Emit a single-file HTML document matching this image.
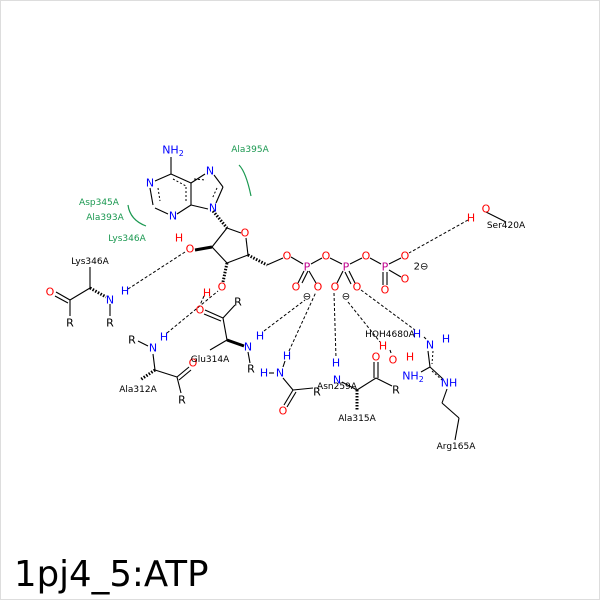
<!DOCTYPE html>
<html><head><style>body{margin:0;background:#fff}svg{display:block}</style></head><body>
<svg width="600" height="600" viewBox="0 0 600 600" xmlns="http://www.w3.org/2000/svg" font-family="DejaVu Sans, Liberation Sans, sans-serif">
<rect x="0.5" y="0.5" width="599" height="599" fill="#fff" stroke="#ddd"/>
<g stroke="#000" stroke-width="1.1" fill="none">
<line x1="171" y1="157" x2="171" y2="174"/>
<line x1="171" y1="174" x2="155" y2="181"/>
<line x1="150" y1="188" x2="153" y2="205"/>
<line x1="155" y1="208" x2="168" y2="214"/>
<line x1="177" y1="214" x2="191" y2="205"/>
<line x1="191" y1="205" x2="191" y2="183"/>
<line x1="191" y1="183" x2="171" y2="174"/>
<line x1="191" y1="183" x2="205" y2="174"/>
<line x1="214" y1="175" x2="223" y2="187"/>
<line x1="223" y1="187" x2="216" y2="203"/>
<line x1="208" y1="209" x2="191" y2="205"/>
<line x1="227" y1="228" x2="241" y2="233"/>
<line x1="246" y1="238" x2="248" y2="255"/>
<line x1="248" y1="255" x2="227" y2="263"/>
<line x1="227" y1="263" x2="212" y2="247"/>
<line x1="212" y1="247" x2="227" y2="228"/>
<line x1="267" y1="265" x2="283" y2="258"/>
<line x1="291" y1="257" x2="303" y2="264"/>
<line x1="311" y1="264" x2="322" y2="258"/>
<line x1="330" y1="258" x2="342" y2="264"/>
<line x1="350" y1="264" x2="362" y2="258"/>
<line x1="370" y1="258" x2="381" y2="264"/>
<line x1="389" y1="264" x2="401" y2="258"/>
<line x1="389" y1="270" x2="401" y2="277"/>
<line x1="383" y1="272" x2="383" y2="285"/><line x1="387" y1="272" x2="387" y2="285"/>
<line x1="304" y1="271" x2="298" y2="283"/><line x1="308" y1="271" x2="302" y2="283"/>
<line x1="309" y1="271" x2="316" y2="283"/>
<line x1="343" y1="271" x2="337" y2="283"/>
<line x1="349" y1="271" x2="355" y2="283"/><line x1="345" y1="272" x2="351" y2="284"/>
<line x1="486" y1="212" x2="506" y2="222"/>
<line x1="90" y1="267" x2="90" y2="288"/>
<line x1="90" y1="288" x2="70" y2="300"/>
<line x1="70" y1="300" x2="56" y2="292"/><line x1="68" y1="303" x2="55" y2="296"/>
<line x1="70" y1="300" x2="70" y2="316"/>
<line x1="110" y1="304" x2="110" y2="316"/>
<line x1="138" y1="341" x2="148" y2="346"/>
<line x1="153" y1="354" x2="155" y2="370"/>
<line x1="155" y1="370" x2="177" y2="377"/>
<line x1="177" y1="377" x2="189" y2="367"/><line x1="179" y1="380" x2="191" y2="370"/>
<line x1="177" y1="377" x2="181" y2="393"/>
<line x1="227" y1="340" x2="223" y2="318"/>
<line x1="223" y1="318" x2="205" y2="310"/><line x1="221" y1="321" x2="204" y2="314"/>
<line x1="223" y1="318" x2="235" y2="305"/>
<line x1="248" y1="352" x2="250" y2="363"/>
<line x1="227" y1="340" x2="210" y2="350"/>
<line x1="269" y1="373" x2="274" y2="373"/>
<line x1="285" y1="361" x2="283" y2="367"/>
<line x1="283" y1="378" x2="293" y2="390"/>
<line x1="293" y1="390" x2="284" y2="405"/><line x1="296" y1="392" x2="287" y2="407"/>
<line x1="293" y1="390" x2="313" y2="388"/>
<line x1="342" y1="382" x2="357" y2="390"/>
<line x1="357" y1="390" x2="376" y2="378"/>
<line x1="374" y1="378" x2="374" y2="362"/><line x1="378" y1="378" x2="378" y2="362"/>
<line x1="376" y1="378" x2="392" y2="386"/>
<line x1="424" y1="337" x2="426" y2="339"/>
<line x1="428" y1="351" x2="430" y2="367"/>
<line x1="430" y1="367" x2="421" y2="372"/>
<line x1="430" y1="367" x2="443" y2="379"/>
<line x1="447" y1="389" x2="442" y2="403"/>
<line x1="442" y1="403" x2="459" y2="418"/>
<line x1="459" y1="418" x2="455" y2="440"/>
<line x1="390" y1="350" x2="391" y2="353"/>
</g>
<g stroke="#000" stroke-width="1" stroke-dasharray="2,2" fill="none">
<line x1="158" y1="188" x2="160" y2="201"/>
<line x1="186" y1="201" x2="186" y2="186"/>
<line x1="194" y1="179" x2="206" y2="180"/>
<line x1="217" y1="188" x2="212" y2="199"/>
<line x1="173" y1="179" x2="186" y2="186"/>
<line x1="433" y1="351" x2="432" y2="364"/>
<line x1="432" y1="371" x2="442" y2="380"/>
</g>
<g stroke="#000" stroke-width="1">
<path d="M213 211 L227 228" stroke-dasharray="1.5,1.5" stroke-width="3"/>
<path d="M212 247 L195 250" stroke-width="3"/>
<path d="M227 263 L223 282" stroke-dasharray="1.5,1.5" stroke-width="3"/>
<path d="M248 255 L267 265" stroke-dasharray="1.5,1.5" stroke-width="3"/>
<path d="M90 288 L106 297" stroke-dasharray="1.5,1.5" stroke-width="3"/>
<path d="M155 370 L140 380" stroke-dasharray="1.5,1.5" stroke-width="3"/>
<path d="M227 340 L244 346" stroke-width="3"/>
<path d="M357 390 L357 410" stroke-dasharray="1.5,1.5" stroke-width="3"/>
</g>
<g stroke="#000" stroke-width="1" stroke-dasharray="3,2" fill="none">
<line x1="128" y1="289" x2="185" y2="252"/>
<line x1="167" y1="333" x2="218" y2="291"/>
<line x1="204" y1="296" x2="200" y2="305"/>
<line x1="264" y1="331" x2="305" y2="300"/>
<line x1="289" y1="351" x2="316" y2="292"/>
<line x1="334" y1="293" x2="336" y2="358"/>
<line x1="348" y1="302" x2="380" y2="342"/>
<line x1="361" y1="290" x2="415" y2="330"/>
<line x1="468" y1="220" x2="409" y2="253"/>
</g>
<g stroke="#1a9850" stroke-width="1.2" fill="none">
<path d="M239 165 Q246 172 251 196"/>
<path d="M128 205 Q130 220 146 226"/>
</g>
<g font-size="11" text-anchor="middle" dominant-baseline="central">
<g fill="#00f">
<text x="173" y="150">NH<tspan font-size="8" dy="3">2</tspan></text>
<text x="150" y="183">N</text><text x="173" y="216">N</text>
<text x="210" y="171">N</text><text x="213" y="208">N</text>
<text x="110" y="300">N</text><text x="125" y="291">H</text>
<text x="153" y="348">N</text><text x="164" y="337">H</text>
<text x="248" y="347">N</text><text x="260" y="336">H</text>
<text x="264" y="373">H</text><text x="280" y="373">N</text><text x="287" y="356">H</text>
<text x="337" y="380">N</text><text x="336" y="363">H</text>
<text x="417" y="334">H</text><text x="430" y="345">N</text><text x="446" y="339">H</text>
<text x="413" y="376">NH<tspan font-size="8" dy="3">2</tspan></text>
<text x="449" y="383">NH</text>
</g>
<g fill="#f00">
<text x="245" y="233">O</text><text x="190" y="249">O</text><text x="179" y="238">H</text>
<text x="222" y="287">O</text><text x="207" y="293">H</text>
<text x="287" y="256">O</text><text x="326" y="256">O</text><text x="366" y="256">O</text><text x="405" y="256">O</text>
<text x="405" y="279">O</text><text x="385" y="290">O</text>
<text x="296" y="287">O</text><text x="318" y="287">O</text><text x="335" y="287">O</text><text x="357" y="287">O</text>
<text x="486" y="209">O</text><text x="471" y="218">H</text>
<text x="383" y="346">H</text><text x="393" y="360">O</text><text x="410" y="357">H</text>
<text x="50" y="292">O</text><text x="200" y="310">O</text><text x="193" y="363">O</text>
<text x="283" y="411">O</text><text x="376" y="357">O</text>
</g>
<g fill="#c0008c">
<text x="307" y="267">P</text><text x="346" y="267">P</text><text x="385" y="267">P</text>
</g>
<g fill="#000">
<text x="70" y="323">R</text><text x="110" y="323">R</text>
<text x="132" y="340">R</text><text x="182" y="400">R</text>
<text x="238" y="302">R</text><text x="251" y="369">R</text>
<text x="317" y="392">R</text><text x="396" y="390">R</text>
<text x="307" y="297" font-size="10">⊖</text><text x="346" y="297" font-size="10">⊖</text>
<text x="421" y="267" font-size="10">2⊖</text>
</g>
</g>
<g font-size="9" text-anchor="middle" dominant-baseline="central" fill="#000">
<text x="90" y="262">Lys346A</text>
<text x="138" y="390">Ala312A</text>
<text x="210" y="360">Glu314A</text>
<text x="337" y="387">Asn259A</text>
<text x="357" y="419">Ala315A</text>
<text x="390" y="335">HOH4680A</text>
<text x="506" y="226">Ser420A</text>
<text x="456" y="447">Arg165A</text>
</g>
<g font-size="9" text-anchor="middle" dominant-baseline="central" fill="#1a9850">
<text x="250" y="150">Ala395A</text>
<text x="99" y="203">Asp345A</text>
<text x="105" y="218">Ala393A</text>
<text x="127" y="239">Lys346A</text>
</g>
<text x="14" y="586" font-size="35.5" font-family="DejaVu Sans, sans-serif" fill="#000">1pj4_5:ATP</text>
</svg>
</body></html>
